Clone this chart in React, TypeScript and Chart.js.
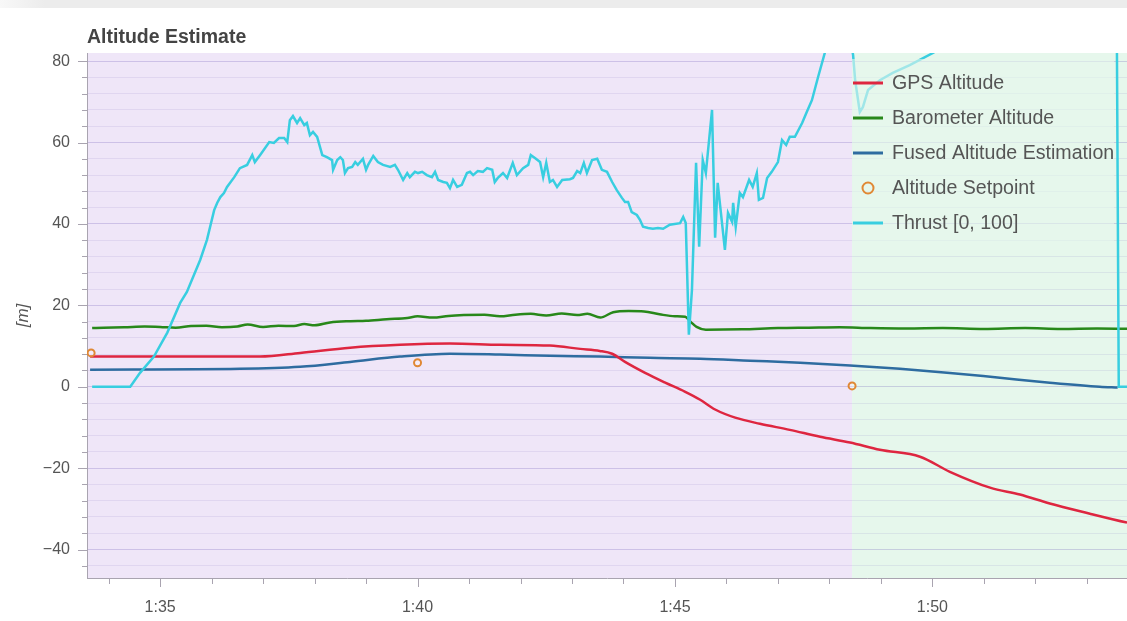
import React, { useEffect, useRef } from 'react';
import { Chart, registerables } from 'chart.js';

Chart.register(...registerables);

// ---- flight log data (time in seconds, altitude in metres) ----
const gpsTime = [93.64, 96.94, 97.72, 98.69, 99.66, 100.63, 101.6, 102.57, 103.16, 103.54, 103.78, 104.03, 104.42, 104.81, 105.19, 105.49, 105.78, 106.17, 106.65, 107.23, 107.82, 108.4, 108.98, 109.76, 110.34, 111.12, 111.7, 112.28, 113.06, 113.78, 114.0];
const gpsAlt = [7.4, 7.4, 8.3, 9.6, 10.3, 10.6, 10.3, 10.1, 9.3, 8.8, 8.1, 6.1, 3.4, 1.0, -1.2, -3.2, -5.6, -7.6, -9.1, -10.6, -12.3, -13.7, -15.5, -17.2, -20.9, -24.8, -26.5, -28.7, -31.2, -33.4, -34.0];

const baroTime = [93.68, 93.9, 94.3, 94.7, 95.0, 95.3, 95.6, 95.9, 96.2, 96.5, 96.7, 97.0, 97.3, 97.6, 97.8, 98.0, 98.3, 98.7, 99.0, 99.4, 99.8, 100.0, 100.3, 100.6, 100.9, 101.3, 101.6, 101.9, 102.2, 102.5, 102.8, 103.1, 103.3, 103.55, 103.8, 104.1, 104.4, 104.7, 105.0, 105.2, 105.3, 105.42, 105.6, 106.3, 107.0, 107.6, 108.2, 108.8, 109.5, 110.2, 111.0, 111.8, 112.5, 113.2, 114.0];
const baroAlt = [14.4, 14.5, 14.6, 14.8, 14.7, 14.5, 14.9, 15.0, 14.6, 14.8, 15.3, 14.7, 15.0, 14.9, 15.4, 15.1, 15.8, 16.1, 16.2, 16.6, 16.9, 17.3, 17.0, 17.4, 17.6, 17.7, 17.3, 17.7, 17.9, 17.5, 18.0, 17.6, 17.9, 17.0, 18.3, 18.6, 18.5, 17.8, 17.3, 17.2, 16.0, 14.7, 14.0, 14.1, 14.4, 14.5, 14.6, 14.4, 14.3, 14.4, 14.2, 14.4, 14.2, 14.3, 14.2];

const fusedTime = [93.64, 96.55, 97.72, 98.69, 99.66, 100.63, 101.6, 102.57, 103.54, 104.51, 105.49, 106.46, 107.43, 108.4, 109.37, 110.34, 111.31, 112.28, 113.25, 113.6];
const fusedAlt = [4.2, 4.4, 4.9, 6.1, 7.4, 8.1, 7.9, 7.6, 7.4, 7.1, 6.9, 6.4, 5.9, 5.2, 4.4, 3.4, 2.2, 1.0, 0.0, -0.2];

const setpointTime = [93.66, 100.0, 108.44];
const setpointAlt = [8.3, 5.9, 0.2];

const thrustTime = [
  93.68, 94.42, 94.61, 94.88, 95.14, 95.39, 95.52, 95.78, 95.91, 96.05,
  96.11, 96.17, 96.24, 96.30, 96.44, 96.55, 96.69, 96.79, 96.84, 96.94,
  97.12, 97.21, 97.31, 97.41, 97.47, 97.52, 97.58, 97.66, 97.72, 97.80,
  97.85, 97.91, 97.97, 98.05, 98.15, 98.24, 98.34, 98.36, 98.44, 98.50,
  98.55, 98.59, 98.65, 98.73, 98.79, 98.84, 98.94, 99.00, 99.04, 99.14,
  99.23, 99.33, 99.47, 99.56, 99.62, 99.72, 99.80, 99.85, 99.95, 100.01,
  100.09, 100.18, 100.28, 100.34, 100.40, 100.50, 100.57, 100.63, 100.69, 100.77,
  100.86, 100.96, 101.02, 101.08, 101.17, 101.27, 101.35, 101.45, 101.50, 101.56,
  101.66, 101.74, 101.85, 101.93, 102.05, 102.15, 102.20, 102.28, 102.38, 102.44,
  102.50, 102.57, 102.63, 102.71, 102.81, 102.96, 103.02, 103.10, 103.16, 103.23,
  103.29, 103.39, 103.49, 103.58, 103.68, 103.78, 103.87, 103.97, 104.03, 104.09,
  104.16, 104.26, 104.32, 104.38, 104.48, 104.57, 104.67, 104.77, 104.90, 105.10,
  105.16, 105.21, 105.27, 105.33, 105.41, 105.47, 105.54, 105.60, 105.72, 105.78,
  105.83, 105.97, 106.03, 106.11, 106.13, 106.18, 106.26, 106.32, 106.44, 106.51,
  106.59, 106.63, 106.71, 106.79, 106.88, 107.00, 107.08, 107.16, 107.23, 107.33,
  107.47, 107.56, 107.66, 107.78, 107.91, 108.10, 108.35, 108.46, 108.50, 108.59,
  108.65, 108.75, 108.98, 109.23, 109.56, 110.01, 110.5, 111.5, 112.5, 113.58,
  113.62, 114.0,
];
const thrustValue = [
  0, 0, 3.4, 7.4, 13.3, 20.6, 23.3, 31.2, 36.1, 43.4,
  45.2, 46.6, 47.6, 49.1, 51.5, 53.7, 54.5, 56.9, 55.2, 56.9,
  60.1, 59.9, 61.1, 61.1, 60.1, 65.5, 66.5, 64.8, 66.0, 64.3,
  64.8, 61.8, 62.6, 61.4, 56.9, 56.4, 55.7, 53.3, 55.7, 56.4,
  55.7, 52.5, 53.7, 54.0, 55.2, 54.5, 56.0, 53.3, 54.5, 56.7,
  55.2, 54.5, 54.0, 54.5, 53.3, 50.8, 52.5, 51.5, 52.8, 52.5,
  52.8, 52.0, 51.5, 52.8, 50.8, 50.3, 50.1, 48.8, 50.8, 49.1,
  49.6, 52.5, 52.8, 52.0, 53.0, 52.8, 53.7, 53.3, 50.3, 51.3,
  52.5, 51.3, 55.0, 52.0, 53.7, 54.5, 56.9, 56.2, 55.2, 51.5,
  55.0, 50.3, 50.8, 49.1, 50.8, 51.0, 51.3, 53.0, 52.5, 55.0,
  52.5, 55.7, 56.0, 53.3, 52.8, 50.3, 48.3, 46.4, 45.4, 45.4,
  42.9, 42.2, 41.0, 39.3, 39.0, 38.8, 39.0, 38.8, 39.8, 40.2,
  41.7, 40.2, 12.8, 23.8, 55.0, 34.4, 55.7, 52.5, 68.0, 36.6,
  50.1, 33.6, 42.7, 40.5, 45.2, 39.3, 47.6, 46.6, 50.8, 49.1,
  52.5, 45.9, 46.4, 51.3, 52.8, 55.2, 60.6, 59.4, 61.4, 61.4,
  64.8, 67.5, 70.4, 76.1, 82.0, 88, 90, 81.5, 75.3, 67.5,
  68.7, 72.9, 75.3, 77.1, 79.0, 82.0, 86, 90, 92, 93,
  0, 0,
];

// flight mode segments (start / end time)
const modeStart = [93.0, 108.44];
const modeEnd = [108.44, 120.0];

// visible axis ranges and tick spacing
const timeMin = 93.58;
const timeMax = 113.78;
const altMin = -47;
const altMax = 82;
const timeStep = 1;
const altStep = 4;

const modeColors = ['rgb(239,230,248)', 'rgb(230,247,236)'];
const FONT = "'Liberation Sans', Arial, sans-serif";

const zip = (xs: number[], ys: number[]) => xs.map((x, i) => ({ x, y: ys[i] }));

const stepTicks = (min: number, max: number, step: number) => {
  const out: { value: number }[] = [];
  for (let v = Math.ceil(min / step) * step; v <= max; v += step) out.push({ value: v });
  return out;
};

const fmtTime = (v: number) => {
  const m = Math.floor(v / 60);
  const s = Math.round(v - m * 60);
  return `${m}:${String(s).padStart(2, '0')}`;
};

const decorPlugin = {
  id: 'decor',
  beforeDraw(chart: any) {
    const { ctx, chartArea: a, scales } = chart;
    const xs = scales.x;
    ctx.save();
    modeStart.forEach((s, i) => {
      const x0 = Math.max(a.left, xs.getPixelForValue(s));
      const x1 = Math.min(a.right, xs.getPixelForValue(modeEnd[i]));
      if (x1 > x0) {
        ctx.fillStyle = modeColors[i];
        ctx.fillRect(x0, a.top, x1 - x0, a.bottom - a.top);
      }
    });
    ctx.restore();
  },
  afterDatasetsDraw(chart: any) {
    const { ctx, chartArea: a } = chart;
    ctx.save();
    ctx.fillStyle = 'rgba(230,247,236,0.6)';
    ctx.fillRect(852, a.top + 6, 262, 184);
    chart.data.datasets.forEach((ds: any, i: number) => {
      const cy = 83 + i * 35;
      ctx.beginPath();
      if (ds.showLine === false) {
        ctx.arc(868, cy, 5.5, 0, Math.PI * 2);
        ctx.lineWidth = 2;
      } else {
        ctx.moveTo(853, cy);
        ctx.lineTo(883, cy);
        ctx.lineWidth = 3;
      }
      ctx.strokeStyle = ds.borderColor;
      ctx.stroke();
      ctx.fillStyle = '#555';
      ctx.font = `19.6px ${FONT}`;
      ctx.textAlign = 'left';
      ctx.textBaseline = 'middle';
      ctx.fillText(ds.label, 892, cy + 1);
    });
    ctx.restore();
  },
  afterDraw(chart: any) {
    const { ctx, chartArea: a, scales } = chart;
    ctx.save();
    ctx.strokeStyle = '#a9a4b0';
    ctx.lineWidth = 1;
    // y tick marks: long at labelled values, short in between
    scales.y.ticks.forEach((t: any) => {
      const y = Math.round(scales.y.getPixelForValue(t.value)) + 0.5;
      const len = t.value % 20 === 0 ? 9 : 5;
      ctx.beginPath();
      ctx.moveTo(a.left - len, y);
      ctx.lineTo(a.left, y);
      ctx.stroke();
    });
    // x tick marks: one per second, longer every five
    scales.x.ticks.forEach((t: any) => {
      const x = Math.round(scales.x.getPixelForValue(t.value)) + 0.5;
      const len = Math.round(t.value) % 5 === 0 ? 9 : 6;
      ctx.beginPath();
      ctx.moveTo(x, a.bottom);
      ctx.lineTo(x, a.bottom + len);
      ctx.stroke();
    });
    // title
    ctx.fillStyle = '#444';
    ctx.font = `bold 19.5px ${FONT}`;
    ctx.textAlign = 'left';
    ctx.textBaseline = 'alphabetic';
    ctx.fillText('Altitude Estimate', a.left, 43);
    // y axis unit
    ctx.translate(23, (a.top + a.bottom) / 2);
    ctx.rotate(-Math.PI / 2);
    ctx.font = `italic 17px ${FONT}`;
    ctx.fillStyle = '#555';
    ctx.textAlign = 'center';
    ctx.textBaseline = 'middle';
    ctx.fillText('[m]', 0, 0);
    ctx.restore();
  },
};

export default function App() {
  const ref = useRef<HTMLCanvasElement>(null);

  useEffect(() => {
    const line = { pointRadius: 0, borderWidth: 2.5, fill: false };
    const chart = new Chart(ref.current as HTMLCanvasElement, {
      type: 'line',
      data: {
        datasets: [
          { ...line, label: 'GPS Altitude', data: zip(gpsTime, gpsAlt), borderColor: 'rgb(222,38,64)', cubicInterpolationMode: 'monotone', order: 2 },
          { ...line, label: 'Barometer Altitude', data: zip(baroTime, baroAlt), borderColor: 'rgb(40,136,26)', cubicInterpolationMode: 'monotone', order: 3 },
          { ...line, label: 'Fused Altitude Estimation', data: zip(fusedTime, fusedAlt), borderColor: 'rgb(46,108,160)', cubicInterpolationMode: 'monotone', order: 4 },
          { label: 'Altitude Setpoint', data: zip(setpointTime, setpointAlt), showLine: false, pointRadius: 3.5, pointBorderWidth: 2, borderColor: 'rgb(224,136,52)', backgroundColor: 'rgba(255,255,255,0.3)', pointBackgroundColor: 'rgba(255,255,255,0.3)', order: 1 },
          { ...line, label: 'Thrust [0, 100]', data: zip(thrustTime, thrustValue), borderColor: 'rgb(56,206,224)', tension: 0, order: 0 },
        ] as any,
      },
      options: {
        responsive: false,
        devicePixelRatio: 1,
        animation: false,
        events: [],
        layout: { autoPadding: false, padding: { top: 53, left: 0, right: 0, bottom: 0 } },
        plugins: { legend: { display: false }, tooltip: { enabled: false }, title: { display: false } },
        scales: {
          x: {
            type: 'linear',
            min: timeMin,
            max: timeMax,
            afterBuildTicks: (s: any) => { s.ticks = stepTicks(timeMin, timeMax, timeStep); },
            afterFit: (s: any) => { s.height = 43; s.paddingLeft = 0; s.paddingRight = 0; },
            grid: { drawOnChartArea: false, drawTicks: false },
            border: { color: '#a9a4b0' },
            ticks: {
              autoSkip: false,
              maxRotation: 0,
              padding: 20,
              color: '#555',
              font: { family: FONT, size: 16 },
              callback: (v: any) => (Math.round(v) % 5 === 0 ? fmtTime(Number(v)) : ''),
            },
          },
          y: {
            min: altMin,
            max: altMax,
            afterBuildTicks: (s: any) => { s.ticks = stepTicks(altMin, altMax, altStep); },
            afterFit: (s: any) => { s.width = 87; },
            grid: {
              drawTicks: false,
              color: (c: any) => (c.tick && c.tick.value % 20 === 0 ? 'rgba(110,90,180,0.26)' : 'rgba(110,90,180,0.11)'),
            },
            border: { color: '#a9a4b0' },
            ticks: {
              autoSkip: false,
              padding: 17,
              color: '#555',
              font: { family: FONT, size: 16 },
              callback: (v: any) => (Number(v) % 20 === 0 ? String(v).replace('-', '\u2212') : ''),
            },
          },
        },
      },
      plugins: [decorPlugin],
    });
    return () => chart.destroy();
  }, []);

  return (
    <div style={{ position: 'fixed', left: 0, top: 0, width: 1127, height: 621, background: '#fff', overflow: 'hidden' }}>
      <div style={{ position: 'absolute', left: 0, top: 0, width: '100%', height: 8, background: 'linear-gradient(to right, #f8f8f8 0px, #ececec 45px)' }} />
      <canvas ref={ref} width={1127} height={621} style={{ position: 'absolute', left: 0, top: 0 }} />
    </div>
  );
}
